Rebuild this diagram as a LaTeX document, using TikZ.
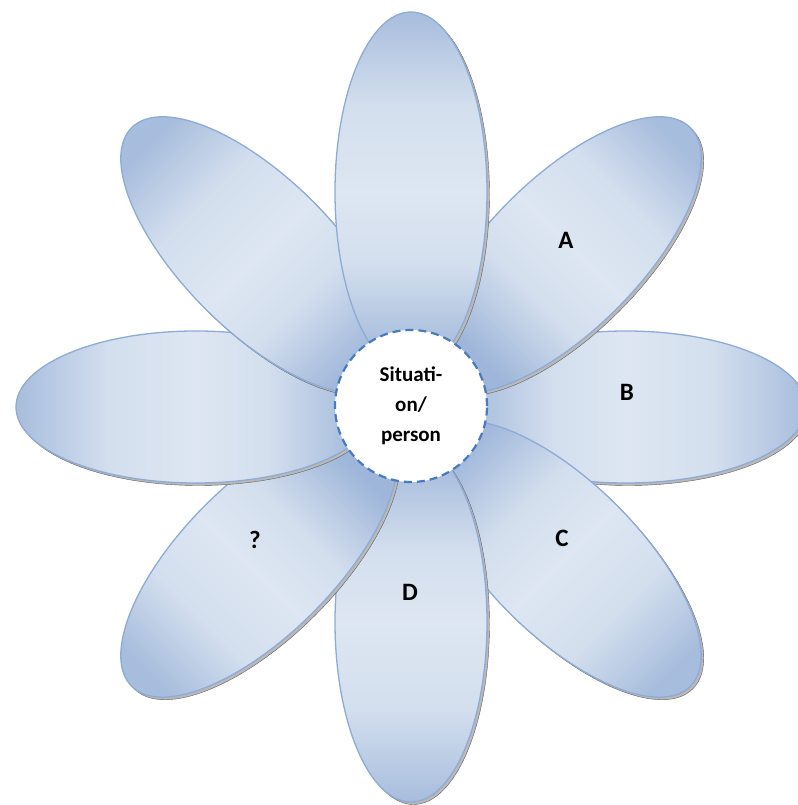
\documentclass[tikz,border=0pt]{standalone}
\usepackage{fontspec}
\setmainfont{Carlito}
\usepackage{xcolor}
\usepackage{tikz}
\usetikzlibrary{shapes.geometric}

\definecolor{petalLight}{RGB}{221,230,242}
\definecolor{petalDark}{RGB}{158,182,217}
\definecolor{petalEdge}{RGB}{141,171,214}
\definecolor{hubEdge}{RGB}{72,122,190}

\pgfdeclarehorizontalshading{petalshade}{100bp}{color(0bp)=(petalDark);
  color(26bp)=(petalDark); color(40bp)=(petalLight!85!petalDark);
  color(50bp)=(petalLight); color(62bp)=(petalLight!85!petalDark);
  color(75bp)=(petalDark!85!petalLight); color(100bp)=(petalDark!85!petalLight)}

\begin{document}
\begin{tikzpicture}[x=1pt,y=1pt,
  petal/.style={ellipse, minimum width=360pt, minimum height=152pt, inner sep=0pt,
    draw=petalEdge, line width=1.3pt, shading=petalshade},
  petalshadow/.style={ellipse, minimum width=360pt, minimum height=152pt, inner sep=0pt,
    fill=gray!55, draw=gray!75!black, line width=0.4pt},
  petaltext/.style={font=\bfseries\fontsize{25}{30}\selectfont},
  hub/.style={circle, minimum size=152pt, inner sep=0pt, fill=white, draw=hubEdge,
    line width=2.2pt, dash pattern=on 8pt off 5pt, align=center,
    font=\bfseries\fontsize{21}{30}\selectfont}]

\useasboundingbox (-411,-398) rectangle (386,407);

%花瓣（先画的在下面）
\foreach \ang/\nm in {0/pB,-45/pC,-90/pD,-135/pQ,180/pL,135/pUL,45/pA,90/pT}{
  \node[petalshadow, rotate=\ang] (\nm s) at ([shift={(2.5,-2.5)}]\ang:215) {};
  \node[petal, rotate=\ang, shading angle=\ang] (\nm) at (\ang:215) {};
}

%花瓣上的字母
\node[petaltext] (tA) at (155,167) {A};
\node[petaltext] (tB) at (216,15) {B};
\node[petaltext] (tC) at (151,-131) {C};
\node[petaltext] (tD) at (-1,-185) {D};
\node[petaltext] (tQ) at (-156,-133) {?};

%中心
\node[hub] (hub) at (0,1) {Situati-\\on/\\person};
\end{tikzpicture}
\end{document}
